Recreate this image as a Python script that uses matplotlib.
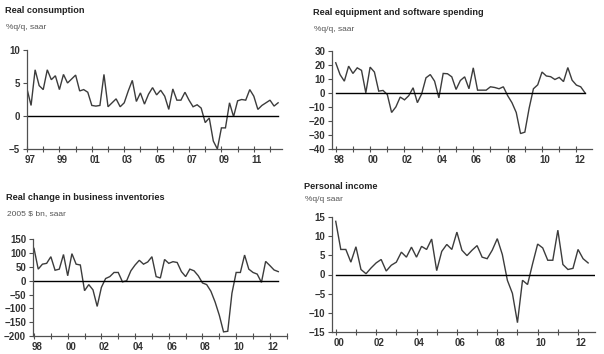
import numpy as np
import matplotlib
matplotlib.use('Agg')
import matplotlib.pyplot as plt
import matplotlib.transforms as mtrans

plt.rcParams['font.family'] = ['Liberation Sans', 'DejaVu Sans']

# quarterly series
cons_start = 1997
cons = [4.1, 1.6, 7.0, 4.6, 4.0, 7.0, 5.5, 6.1, 4.0, 6.3, 5.0, 5.6, 6.2, 3.8, 4.0, 3.6,
        1.6, 1.5, 1.6, 6.3, 1.4, 2.0, 2.6, 1.4, 2.0, 3.8, 5.4, 2.2, 3.5, 1.8, 3.3, 4.3,
        3.2, 3.9, 3.0, 1.0, 4.1, 2.4, 2.4, 3.6, 2.4, 1.4, 1.7, 1.2, -1.0, -0.3, -3.8, -5.0,
        -1.8, -1.8, 2.0, -0.1, 2.3, 2.5, 2.4, 4.0, 3.0, 1.0, 1.6, 2.0, 2.4, 1.5, 2.0]

equip_start = 1998
equip = [21.4, 13, 8.3, 19, 13.8, 17.8, 16, 0, 18.3, 14.8, 1.2, 1.7, -1.2, -14, -10, -3,
         -5, -2, 3.6, -7, -0.7, 10.7, 13, 8.3, -3.6, 13.8, 13.6, 11.4, 2.4, 8.8, 11.4, 2.9,
         17.8, 1.9, 1.9, 1.9, 4.3, 3.8, 2.9, 4.3, -2, -7, -14, -29, -28, -11, 2.9, 5.7,
         14.8, 12, 11.5, 9.5, 11, 8, 18, 9, 5.5, 4.3, 0]

inv_start = 1998
inv = [117, 42, 60, 63, 87, 38, 42, 95, 18, 98, 60, 57, -36, -14, -33, -93,
       -24, 8, 15, 30, 30, -4, 0, 36, 57, 74, 60, 68, 87, 15, 10, 77,
       63, 69, 66, 33, 15, 42, 36, 18, -8, -14, -38, -77, -125, -185, -183, -45,
       30, 30, 93, 42, 30, 24, -6, 70, 55, 39, 33]

inc_start = 2000
inc = [13.8, 6.5, 6.5, 3.2, 7.2, 1.3, 0.2, 1.7, 3.0, 3.9, 0.9, 2.4, 3.2, 5.8, 4.5, 7.1,
       4.5, 7.3, 6.5, 9.2, 1.0, 6.0, 7.8, 6.5, 11.0, 6.3, 4.9, 6.3, 7.5, 4.5, 4.1, 6.3,
       9.3, 5.2, -1.5, -4.9, -12.5, -1.5, -2.6, 2.8, 7.9, 6.9, 3.7, 3.7, 11.5, 2.6, 1.3, 1.6,
       6.5, 4.1, 3.0]

W, H = 604, 354
fig = plt.figure(figsize=(W / 100, H / 100), dpi=100)
fig.patch.set_facecolor('white')

line_col = '#3c3c3c'
axis_col = '#505050'


def panel(box, start, vals, ylim, ystep, xlim, first_lab, last_lab, zero_to_end=False):
    # box = left, top, right, bottom in pixels
    l, t, r, b = box
    ax = fig.add_axes([l / W, 1 - b / H, (r - l) / W, (b - t) / H])
    x = start + np.arange(len(vals)) / 4
    ax.plot(x, vals, color=line_col, lw=1.0, solid_joinstyle='miter')
    x_end = xlim[1] if zero_to_end else x[-1]
    ax.plot([x[0], x_end], [0, 0], color='black', lw=1.0)
    ax.set_xlim(*xlim)
    ax.set_ylim(*ylim)
    ax.set_yticks(np.arange(ylim[0], ylim[1] + ystep, ystep))
    years = np.arange(int(np.ceil(xlim[0])), int(xlim[1]) + 1)
    ax.set_xticks(years)
    labs = []
    for y in years:
        if first_lab <= y <= last_lab and (y - first_lab) % 2 == 0:
            labs.append('%02d' % (y % 100))
        else:
            labs.append('')
    ax.set_xticklabels(labs)
    for s in ['top', 'right']:
        ax.spines[s].set_visible(False)
    for s in ['left', 'bottom']:
        ax.spines[s].set_color(axis_col)
        ax.spines[s].set_linewidth(0.9)
    ax.tick_params(axis='both', colors=axis_col, length=3, width=0.8,
                   labelsize=7, labelcolor='#333333', pad=2)
    ax.tick_params(axis='x', direction='inout', length=4)
    shift = mtrans.ScaledTranslation(3 / 100, 0, fig.dpi_scale_trans)
    for lab in ax.get_xticklabels():
        lab.set_fontweight('bold')
        lab.set_transform(lab.get_transform() + shift)
    for lab in ax.get_yticklabels():
        lab.set_fontweight('bold')
    return ax


def heading(x, y, title, sub, y_sub):
    fig.text(x / W, 1 - y / H, title, fontsize=6.6, fontweight='bold',
             color='#222222', va='top', ha='left')
    fig.text((x + 1) / W, 1 - y_sub / H, sub, fontsize=6, color='#555555',
             va='top', ha='left')


ax1 = panel((26.7, 50, 282, 149), cons_start, cons, (-5, 10), 5,
            (1996.98, 2012.74), 1997, 2011)
heading(5, 6, 'Real consumption', '%q/q, saar', 24)

ax2 = panel((332.3, 50.7, 591.7, 149), equip_start, equip, (-40, 30), 10,
            (1997.80, 2012.89), 1998, 2012)
heading(313, 8, 'Real equipment and software spending', '%q/q, saar', 26)

ax3 = panel((33, 239.3, 286.7, 336), inv_start, inv, (-200, 150), 50,
            (1997.94, 2013.0), 1998, 2012)
heading(6, 193, 'Real change in business inventories', '2005 $ bn, saar', 210)

ax4 = panel((332.3, 216.7, 595, 332.3), inc_start, inc, (-15, 15), 5,
            (1999.83, 2012.84), 2000, 2012, zero_to_end=True)
heading(304, 182, 'Personal income', '%q/q saar', 196)

fig.savefig('out.png', dpi=100, facecolor='white')
